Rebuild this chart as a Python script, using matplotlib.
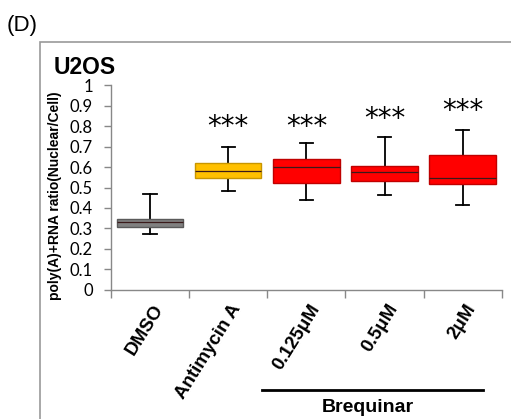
import matplotlib
matplotlib.use("Agg")
import matplotlib.pyplot as plt
from matplotlib.patches import Rectangle
from matplotlib.lines import Line2D

categories = ["DMSO", "Antimycin A", "0.125μM", "0.5μM", "2μM"]
whisker_low = [0.272, 0.483, 0.441, 0.462, 0.413]
q1 = [0.309, 0.548, 0.523, 0.532, 0.517]
median = [0.330, 0.580, 0.602, 0.577, 0.545]
q3 = [0.348, 0.621, 0.637, 0.605, 0.659]
whisker_high = [0.467, 0.699, 0.716, 0.745, 0.779]
star_y = [None, 0.83, 0.83, 0.87, 0.91]
box_colors = ["#808080", "#FFC000", "#FF0000", "#FF0000", "#FF0000"]
edge_colors = ["#5a5a5a", "#c89600", "#c00000", "#c00000", "#c00000"]
yticks = [0, 0.1, 0.2, 0.3, 0.4, 0.5, 0.6, 0.7, 0.8, 0.9, 1]
ytick_labels = ["0", "0.1", "0.2", "0.3", "0.4", "0.5", "0.6", "0.7", "0.8", "0.9", "1"]

fig = plt.figure(figsize=(5.11, 4.19), dpi=100)
ax = fig.add_axes([0.217, 0.308, 0.765, 0.489])

stats = []
for i in range(len(categories)):
    stats.append(dict(whislo=whisker_low[i], q1=q1[i], med=median[i], q3=q3[i],
                      whishi=whisker_high[i], fliers=[], label=categories[i]))
positions = list(range(len(categories)))
bp = ax.bxp(stats, positions=positions, widths=0.85, patch_artist=True,
            showfliers=False, capwidths=0.17,
            medianprops=dict(color="#3a1a1a", linewidth=0.9),
            whiskerprops=dict(color="black", linewidth=1.3),
            capprops=dict(color="black", linewidth=1.3))
for patch, fc, ec in zip(bp["boxes"], box_colors, edge_colors):
    patch.set_facecolor(fc)
    patch.set_edgecolor(ec)
    patch.set_linewidth(1.0)
    patch.set_zorder(3)
for m in bp["medians"]:
    m.set_zorder(4)

for i, sy in enumerate(star_y):
    if sy is not None:
        ax.text(positions[i], sy - 0.075, "***", ha="center", va="baseline",
                fontsize=20, family="DejaVu Sans")

ax.set_xlim(-0.5, len(categories) - 0.5)
ax.set_ylim(0, 1)
ax.set_yticks(yticks)
ax.set_yticklabels(ytick_labels, family="Lato", fontsize=12)
ax.set_xticks([p + 0.5 for p in [-1] + positions])
ax.set_xticklabels([])
ax.tick_params(axis="y", direction="out", color="#888888", length=5, width=1, pad=8)
ax.tick_params(axis="x", direction="out", color="#888888", length=6, width=1)
for s in ["top", "right"]:
    ax.spines[s].set_visible(False)
for s in ["left", "bottom"]:
    ax.spines[s].set_color("#888888")
    ax.spines[s].set_linewidth(1.0)

for i, c in enumerate(categories):
    ax.text(positions[i] + 0.03, -0.055, c, rotation=58, ha="right", va="top",
            rotation_mode="anchor", fontsize=13.5, fontweight="bold",
            family="Liberation Sans", transform=ax.transData, clip_on=False)

ax.set_ylabel("poly(A)+RNA ratio(Nuclear/Cell)", fontsize=10, fontweight="bold",
              family="Liberation Sans")
ax.yaxis.set_label_coords((62 - 111) / (0.765 * 511), (290 - 196) / (0.489 * 419))

# Brequinar bracket
line = Line2D([262 / 511, 483 / 511], [1 - 390 / 419, 1 - 390 / 419],
              transform=fig.transFigure, color="black", linewidth=2)
fig.add_artist(line)
fig.text(368 / 511, 1 - 407 / 419, "Brequinar", ha="center", va="center",
         fontsize=14, fontweight="bold", family="Liberation Sans")

fig.text(7 / 511, 1 - 25 / 419, "(D)", ha="left", va="center", fontsize=16,
         family="Liberation Sans")
fig.text(54 / 511, 1 - 68 / 419, "U2OS", ha="left", va="center", fontsize=16.5,
         fontweight="bold", family="Liberation Sans")

frame = Rectangle((40 / 511, -0.05), 1.0, 1 - 42 / 419 + 0.05, transform=fig.transFigure,
                  fill=False, edgecolor="#999999", linewidth=1.2)
fig.add_artist(frame)

fig.savefig("out.png", dpi=100)
